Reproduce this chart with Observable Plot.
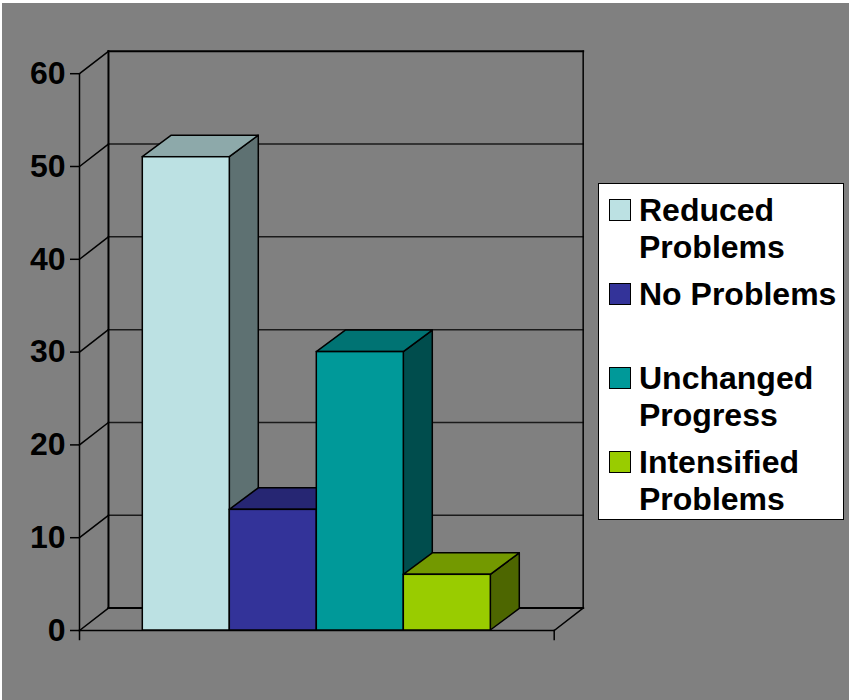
<!DOCTYPE html>
<html>
<head>
<meta charset="utf-8">
<script src="https://cdn.jsdelivr.net/npm/d3@7"></script>
<script src="https://cdn.jsdelivr.net/npm/@observablehq/plot@0.6"></script>
<style>
  html, body { margin: 0; padding: 0; background: #fff; overflow: hidden; }
  #page { position: relative; width: 849px; height: 700px; }
  #bg { position: absolute; left: 2px; top: 3px; right: 0; bottom: 0; background: #808080; }
  #chart { position: absolute; left: 0; top: 0; }
  #chart svg { background: transparent; display: block; }
  #legend { position: absolute; left: 598px; top: 183px; width: 244px; height: 335px;
    background: #fff; border: 1px solid #000; font: bold 32px "Liberation Sans", Arial, sans-serif; color: #000; }
  .row { position: absolute; left: 0; height: 84px; width: 100%; }
  .sw { position: absolute; left: 10px; top: 0; width: 20px; height: 20px; border: 1px solid #000; }
  .lb { position: absolute; left: 40px; top: -7px; width: 204px; line-height: 37px; }
</style>
</head>
<body>
<div id="page">
  <div id="bg"></div>
  <div id="chart"></div>
  <div id="legend"></div>
</div>
<script>
const categories = ["Reduced Problems", "No Problems", "Unchanged Progress", "Intensified Problems"];
const values = [51, 13, 30, 6];
const frontColors = ["#BCE1E3", "#333399", "#009999", "#99CC00"];
const topColors = ["#8DA9AA", "#262673", "#007373", "#739900"];
const sideColors = ["#5E7172", "#1A1A4D", "#004D4D", "#4D6600"];
const yTicks = [0, 10, 20, 30, 40, 50, 60];

// 3D depth of the chart, in data units of the x and y scales
const depthX = 0.333;
const depthY = 2.42;
const barDepthY = 2.32;
const xMin = -0.7276, xMax = 4.7285;
const yMax = 60;
const tickBelow = -0.97;

const bars = categories.map((c, i) => ({c, i, v: values[i]}));

const line = (pts, strokeWidth, stroke = "#000") =>
  Plot.line(pts, {x: "x", y: "y", stroke, strokeWidth, strokeLinecap: "square"});

const wallMarks = [
  // gridlines on the back wall and their diagonal on the side wall
  ...yTicks.flatMap(t => [
    line([{x: xMin + depthX, y: t + depthY}, {x: xMax + depthX, y: t + depthY}],
      t === 0 || t === yMax ? 2 : 1.5, t === 0 || t === yMax ? "#000" : "#1a1a1a"),
    line([{x: xMin, y: t}, {x: xMin + depthX, y: t + depthY}], 1.5)
  ]),
  // back wall verticals
  line([{x: xMin + depthX, y: depthY}, {x: xMin + depthX, y: yMax + depthY}], 2),
  line([{x: xMax + depthX, y: depthY}, {x: xMax + depthX, y: yMax + depthY}], 1.5),
  // floor right edge
  line([{x: xMax, y: 0}, {x: xMax + depthX, y: depthY}], 1.5),
  // front axis lines
  line([{x: xMin, y: 0}, {x: xMin, y: yMax}], 1.5),
  line([{x: xMin, y: 0}, {x: xMax, y: 0}], 1.5),
  // small ticks below the floor's front edge
  line([{x: xMin, y: 0}, {x: xMin, y: tickBelow}], 1.5),
  line([{x: xMax, y: 0}, {x: xMax, y: tickBelow}], 1.5),
];

const barMarks = bars.flatMap(b => [
  // side face
  Plot.areaY([
    {x: b.i + 1, y1: 0, y2: b.v},
    {x: b.i + 1 + depthX, y1: barDepthY, y2: b.v + barDepthY}
  ], {x: "x", y1: "y1", y2: "y2", fill: sideColors[b.i], stroke: "#000", strokeWidth: 1.5, curve: "linear"}),
  // top face
  Plot.areaX([
    {y: b.v, x1: b.i, x2: b.i + 1},
    {y: b.v + barDepthY, x1: b.i + depthX, x2: b.i + 1 + depthX}
  ], {y: "y", x1: "x1", x2: "x2", fill: topColors[b.i], stroke: "#000", strokeWidth: 1.5, curve: "linear"}),
  // front face
  Plot.rect([b], {x1: d => d.i, x2: d => d.i + 1, y1: 0, y2: d => d.v,
    fill: frontColors[b.i], stroke: "#000", strokeWidth: 1.5})
]);

const plot = Plot.plot({
  width: 849,
  height: 700,
  marginLeft: 79,
  marginTop: 0,
  marginRight: 0,
  marginBottom: 0,
  style: {background: "transparent", color: "#000", overflow: "visible"},
  x: {type: "linear", domain: [xMin, xMax], range: [79, 553.7], axis: null},
  y: {type: "linear", domain: [0, yMax], range: [630, 73.2], axis: null},
  marks: [
    ...wallMarks,
    ...barMarks,
    Plot.axisY(yTicks, {
      anchor: "left", tickSize: 9, tickPadding: 5, label: null,
      fontSize: 32, fontWeight: "bold", fontFamily: "Liberation Sans, Arial, sans-serif",
      strokeWidth: 1.5, stroke: "#000", fill: "#000", tickFormat: d => String(d)
    })
  ]
});
document.getElementById("chart").appendChild(plot);

const legend = document.getElementById("legend");
categories.forEach((c, i) => {
  const row = document.createElement("div");
  row.className = "row";
  row.style.top = (15 + i * 84) + "px";
  const sw = document.createElement("div");
  sw.className = "sw";
  sw.style.background = frontColors[i];
  const lb = document.createElement("div");
  lb.className = "lb";
  lb.textContent = c;
  row.append(sw, lb);
  legend.appendChild(row);
});
</script>
</body>
</html>
